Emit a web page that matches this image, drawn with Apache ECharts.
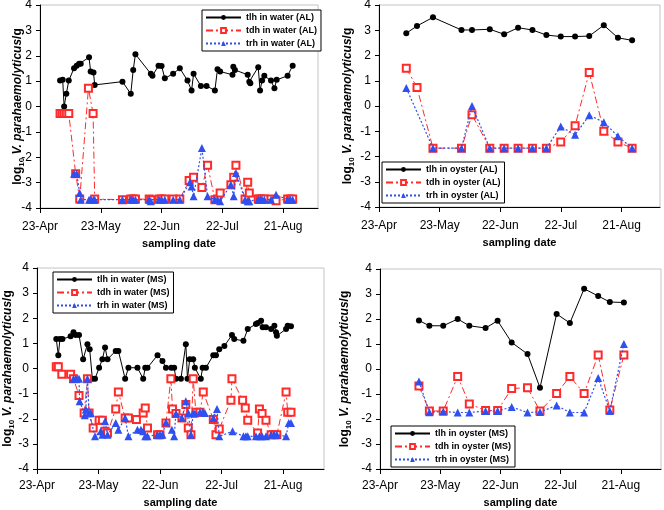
<!DOCTYPE html>
<html><head><meta charset="utf-8">
<script src="https://cdn.jsdelivr.net/npm/echarts@6/dist/echarts.min.js"></script>
<style>html,body{margin:0;padding:0;background:#fff}#c{width:664px;height:510px}</style>
</head><body><div id="c"></div>
<script>
// x values are days after 23-Apr
const dateTicks = ['23-Apr','23-May','22-Jun','22-Jul','21-Aug'];

// Panel 1: water (AL)
const wAL_tlh_day = [9.9,11.2,11.9,13.0,14.2,16.8,18.1,19.3,20.1,24.2,25.0,26.4,27.0,40.7,44.8,46.0,47.1,54.7,55.5,58.5,60.0,61.6,65.7,69.0,72.8,74.8,75.8,79.4,82.2,86.3,87.6,88.9,95.0,95.4,96.2,102.5,103.3,103.8,107.7,108.6,109.6,110.7,114.0,115.7,116.8,122.2,124.7];
const wAL_tlh_val = [1.02,1.05,0.0,0.50,1.02,1.51,1.61,1.68,1.68,1.94,1.38,1.34,0.85,0.98,0.50,1.44,2.06,1.29,1.21,1.61,1.60,1.11,1.29,1.51,1.02,0.63,1.29,0.81,0.81,0.63,1.47,1.38,1.25,1.57,1.44,1.25,0.98,0.92,1.55,0.63,1.02,1.21,1.02,0.72,1.05,1.21,1.61];
const wAL_tdh_day = [9.9,10.9,11.9,13.0,14.2,17.6,19.6,23.9,26.2,27.0,40.7,44.8,46.0,47.1,53.9,54.7,58.8,60.0,61.6,65.7,69.0,73.6,75.8,79.9,82.7,86.3,87.6,88.9,94.2,95.6,96.7,101.2,102.5,103.3,107.7,108.6,109.6,110.7,114.0,116.5,122.2,123.6,124.7];
const wAL_tdh_val = [-0.28,-0.28,-0.28,-0.28,-0.28,-2.65,-3.65,0.72,-0.28,-3.65,-3.67,-3.65,-3.65,-3.65,-3.65,-3.67,-3.65,-3.65,-3.65,-3.65,-3.65,-2.92,-2.79,-3.19,-2.32,-3.67,-3.65,-3.41,-3.08,-2.79,-2.32,-3.65,-2.99,-3.41,-3.65,-3.65,-3.65,-3.65,-3.65,-3.71,-3.65,-3.65,-3.65];
const wAL_trh_day = [16.8,18.1,19.6,20.1,24.2,25.0,26.4,27.0,40.7,44.8,46.0,47.1,53.9,54.7,58.8,60.0,61.6,65.7,69.0,74.0,74.8,75.8,79.9,82.7,86.3,87.6,88.9,94.2,95.6,96.7,101.2,102.5,103.3,107.7,108.6,109.6,110.7,114.0,116.5,122.2,123.6,124.7];
const wAL_trh_val = [-2.65,-2.65,-3.41,-3.67,-3.67,-3.67,-3.67,-3.67,-3.67,-3.67,-3.67,-3.67,-3.67,-3.73,-3.67,-3.67,-3.67,-3.67,-3.67,-2.99,-3.15,-3.54,-1.64,-3.54,-3.67,-3.67,-3.73,-3.08,-3.54,-2.62,-3.67,-3.73,-3.73,-3.67,-3.67,-3.67,-3.67,-3.67,-3.48,-3.67,-3.67,-3.67];

// Panel 2: oyster (AL)
const oAL_tlh_day = [13.5,18.8,26.7,40.8,46.0,54.8,61.9,68.8,75.9,82.8,89.9,97.0,104.0,111.2,118.2,125.2];
const oAL_tlh_val = [2.88,3.17,3.51,3.01,3.01,3.04,2.84,3.10,3.01,2.81,2.75,2.75,2.77,3.20,2.70,2.60];
const oAL_tdh_day = [13.5,18.8,26.7,40.8,46.0,54.8,61.9,68.8,75.9,82.8,89.9,97.0,104.0,111.2,118.2,125.2];
const oAL_tdh_val = [1.50,0.73,-1.67,-1.67,-0.35,-1.67,-1.67,-1.67,-1.67,-1.67,-1.43,-0.78,1.33,-1.00,-1.43,-1.67];
const oAL_trh_day = [13.5,26.7,40.8,46.0,54.8,61.9,68.8,75.9,82.8,89.9,97.0,104.0,111.2,118.2,125.2];
const oAL_trh_val = [0.71,-1.67,-1.67,0.0,-1.67,-1.67,-1.67,-1.67,-1.67,-0.81,-1.14,-0.37,-0.64,-1.20,-1.67];

// Panel 3: water (MS)
const wMS_tlh_day = [9.4,10.4,11.2,12.4,16.4,17.8,18.9,20.5,22.5,24.6,25.7,27.0,28.3,30.3,31.9,33.2,34.4,38.4,39.7,43.0,44.6,49.0,51.8,52.8,53.9,58.8,61.2,62.9,65.5,66.9,67.8,70.2,72.6,73.4,74.5,76.2,77.0,79.9,80.8,82.4,86.0,87.3,88.9,91.4,95.1,96.2,100.7,102.8,106.8,107.7,109.3,110.1,111.7,114.2,115.8,116.6,117.0,121.5,122.3,123.9];
const wMS_tlh_val = [1.17,0.53,1.17,1.17,1.28,1.44,1.33,1.33,0.37,0.97,0.77,-0.41,-0.41,0.03,0.37,0.84,0.37,0.70,0.70,-0.41,0.03,0.03,-0.41,0.03,0.03,0.53,0.30,0.03,0.03,0.03,-0.41,-0.41,0.97,-0.41,0.37,0.37,0.03,-0.41,0.03,0.03,0.53,0.53,0.77,0.90,1.33,1.17,1.10,1.57,1.77,1.81,1.90,1.64,1.64,1.57,1.70,1.44,1.30,1.57,1.70,1.68];
const wMS_tdh_day = [9.4,10.4,12.1,16.4,17.8,20.5,23.0,24.6,25.4,27.4,30.3,31.9,33.2,34.4,38.4,39.7,43.0,44.6,48.5,51.8,52.8,53.9,58.8,60.0,62.9,65.3,66.1,67.8,70.7,72.6,73.8,75.1,76.2,77.5,79.5,81.1,86.0,87.3,88.9,94.6,95.1,100.3,101.6,102.8,107.6,108.5,109.8,111.7,114.2,115.8,117.0,121.5,122.3,123.9];
const wMS_tdh_val = [0.07,0.07,-0.23,-0.23,-0.41,-1.07,-1.77,-0.41,-1.77,-2.37,-2.06,-2.06,-2.50,-2.57,-1.61,-0.94,-1.97,-1.97,-2.03,-1.77,-1.57,-2.37,-2.64,-2.64,-2.17,-0.41,-1.61,-1.79,-1.97,-1.43,-2.37,-2.64,-0.41,-1.74,-1.74,-0.94,-2.03,-2.64,-2.41,-1.26,-0.41,-1.26,-1.57,-2.06,-2.57,-1.61,-1.79,-2.06,-2.64,-2.64,-2.64,-0.94,-1.74,-1.74];
const wMS_trh_day = [17.8,18.9,20.5,20.8,23.3,23.8,24.6,25.4,26.2,28.3,31.1,31.9,33.2,34.4,38.4,39.7,43.0,44.6,49.0,50.7,51.8,52.8,53.9,58.8,60.0,61.2,62.9,65.8,66.9,67.8,70.7,72.6,73.8,75.1,76.2,77.0,79.5,80.8,81.9,86.0,87.8,88.9,95.4,100.7,101.9,102.8,106.8,108.5,109.8,111.7,114.2,115.8,117.0,121.5,122.8,123.9];
const wMS_trh_val = [-0.41,-0.41,-0.41,-1.30,-1.86,-1.63,-0.41,-1.77,-1.77,-2.70,-2.50,-2.64,-2.10,-2.64,-2.17,-2.44,-1.97,-2.70,-2.44,-2.44,-2.50,-2.70,-2.70,-2.64,-2.64,-2.64,-2.14,-2.44,-2.70,-1.79,-1.97,-1.30,-1.77,-2.64,-1.79,-1.79,-1.74,-1.74,-1.77,-1.97,-1.61,-2.70,-2.50,-2.70,-2.70,-2.70,-2.70,-2.70,-2.70,-2.70,-2.64,-2.64,-2.64,-2.70,-2.17,-2.17];

// Panel 4: oyster (MS)
const oMS_day = [19.4,24.6,31.5,38.7,44.5,52.6,58.6,65.6,73.5,79.7,88.0,94.6,101.7,108.7,114.5,121.5];
const oMS_tlh_val = [1.94,1.73,1.73,2.00,1.73,1.64,1.93,1.06,0.60,-0.75,2.20,1.84,3.21,2.92,2.68,2.66];
const oMS_tdh_val = [-0.68,-1.68,-1.68,-0.30,-1.40,-1.66,-1.66,-0.78,-0.75,-1.68,-0.98,-0.30,-0.98,0.56,-1.64,0.56];
const oMS_trh_val = [-0.50,-1.73,-1.70,-1.74,-1.74,-1.68,-1.68,-1.52,-1.74,-1.72,-1.46,-1.74,-1.74,-0.36,-1.68,1.00];

const FONT = '"Liberation Sans", Arial, sans-serif';
const RED = '#ff2a2a', BLUE = '#2f4ff0';

const grids = [
  {left:40, top:5, width:278, height:203, xmax:137.2, nameGap:14, xNameGap:30, lblMargin:13},
  {left:379, top:5, width:281, height:202, xmax:139, nameGap:23, xNameGap:30, lblMargin:13},
  {left:37, top:268, width:287, height:201, xmax:140, nameGap:21, xNameGap:28, lblMargin:11},
  {left:380, top:269, width:281, height:200, xmax:140, nameGap:27, xNameGap:28, lblMargin:11}
];

function pairs(d, v){ return d.map((x,i)=>[x, v[i]]); }

const styles = {
  tlh: {symbol:'circle', symbolSize:6, itemStyle:{color:'#000'}, lineStyle:{color:'#000', width:1, type:'solid'}},
  tdh: {symbol:'emptyRect', symbolSize:7, itemStyle:{color:RED, borderColor:RED, borderWidth:1}, lineStyle:{color:RED, width:1, type:[7,3,2,3]}},
  trh: {symbol:'triangle', symbolSize:8, itemStyle:{color:BLUE}, lineStyle:{color:BLUE, width:1.2, type:[2,2]}}
};

function mk(kind, name, d, v, gi){
  return Object.assign({type:'line', name:name, xAxisIndex:gi, yAxisIndex:gi,
    data: pairs(d, v), animation:false, z: kind==='trh'?4:(kind==='tdh'?3:2)}, JSON.parse(JSON.stringify(styles[kind])));
}

const series = [
  mk('tlh','tlh in water (AL)', wAL_tlh_day, wAL_tlh_val, 0),
  mk('tdh','tdh in water (AL)', wAL_tdh_day, wAL_tdh_val, 0),
  mk('trh','trh in water (AL)', wAL_trh_day, wAL_trh_val, 0),
  mk('tlh','tlh in oyster (AL)', oAL_tlh_day, oAL_tlh_val, 1),
  mk('tdh','tdh in oyster (AL)', oAL_tdh_day, oAL_tdh_val, 1),
  mk('trh','trh in oyster (AL)', oAL_trh_day, oAL_trh_val, 1),
  mk('tlh','tlh in water (MS)', wMS_tlh_day, wMS_tlh_val, 2),
  mk('tdh','tdh in water (MS)', wMS_tdh_day, wMS_tdh_val, 2),
  mk('trh','trh in water (MS)', wMS_trh_day, wMS_trh_val, 2),
  mk('tlh','tlh in oyster (MS)', oMS_day, oMS_tlh_val, 3),
  mk('tdh','tdh in oyster (MS)', oMS_day, oMS_tdh_val, 3),
  mk('trh','trh in oyster (MS)', oMS_day, oMS_trh_val, 3)
];

const legendPos = [
  {left:202, top:10, names:['tlh in water (AL)','tdh in water (AL)','trh in water (AL)']},
  {left:382, top:162, names:['tlh in oyster (AL)','tdh in oyster (AL)','trh in oyster (AL)']},
  {left:53, top:272, names:['tlh in water (MS)','tdh in water (MS)','trh in water (MS)']},
  {left:391, top:426, names:['tlh in oyster (MS)','tdh in oyster (MS)','trh in oyster (MS)']}
];

const yName = '{a|log}{s|10}{a| }{i|V. parahaemolyticus}{a|/g}';

const option = {
  animation:false,
  backgroundColor:'#fff',
  grid: grids.map(g=>({left:g.left, top:g.top, width:g.width, height:g.height, containLabel:false,
    outerBoundsMode:'none', show:true, borderColor:'#c4c4c4', borderWidth:1, backgroundColor:'transparent'})),
  xAxis: grids.map((g,i)=>({type:'value', gridIndex:i, min:0, max:g.xmax, interval:30,
    name:'sampling date', nameLocation:'middle', nameGap:g.xNameGap, nameMoveOverlap:false,
    nameTextStyle:{fontFamily:FONT, fontSize:11, fontWeight:'bold', color:'#000'},
    axisLine:{show:true, onZero:false, lineStyle:{color:'#000', width:1}},
    axisTick:{show:true, inside:false, length:5, lineStyle:{color:'#000'}},
    splitLine:{show:false},
    axisLabel:{show:true, margin:g.lblMargin, fontFamily:FONT, fontSize:12, color:'#000', showMaxLabel:false,
      formatter:function(v){ const k=Math.round(v/30); return (Math.abs(v-k*30)<1e-6 && k<dateTicks.length)?dateTicks[k]:''; }}
  })),
  yAxis: grids.map((g,i)=>({type:'value', gridIndex:i, min:-4, max:4, interval:1,
    name:yName, nameLocation:'middle', nameGap:g.nameGap, nameRotate:90, nameMoveOverlap:false,
    nameTextStyle:{fontFamily:FONT, fontSize:12, fontWeight:'bold', color:'#000',
      rich:{
        a:{fontFamily:FONT, fontSize:12, fontWeight:'bold', color:'#000', lineHeight:16, verticalAlign:'middle'},
        s:{fontFamily:FONT, fontSize:8, fontWeight:'bold', color:'#000', lineHeight:16, verticalAlign:'bottom'},
        i:{fontFamily:FONT, fontSize:12, fontWeight:'bold', fontStyle:'italic', color:'#000', lineHeight:16, verticalAlign:'middle'}
      }},
    axisLine:{show:true, onZero:false, lineStyle:{color:'#000', width:1}},
    axisTick:{show:true, inside:false, length:4, lineStyle:{color:'#000'}},
    splitLine:{show:false},
    axisLabel:{margin:8, fontFamily:FONT, fontSize:12, color:'#000'}
  })),
  legend: legendPos.map(l=>({left:l.left, top:l.top, orient:'vertical', data:l.names, selectedMode:false,
    itemWidth:35, itemHeight:6, itemGap:2, padding:[2,4,2,3],
    borderColor:'#000', borderWidth:1, backgroundColor:'#fff', borderRadius:0,
    textStyle:{fontFamily:FONT, fontSize:9, fontWeight:'bold', color:'#000', lineHeight:11}})),
  series: series
};

const chart = echarts.init(document.getElementById('c'), null, {renderer:'canvas'});
chart.setOption(option);
</script>
</body></html>
